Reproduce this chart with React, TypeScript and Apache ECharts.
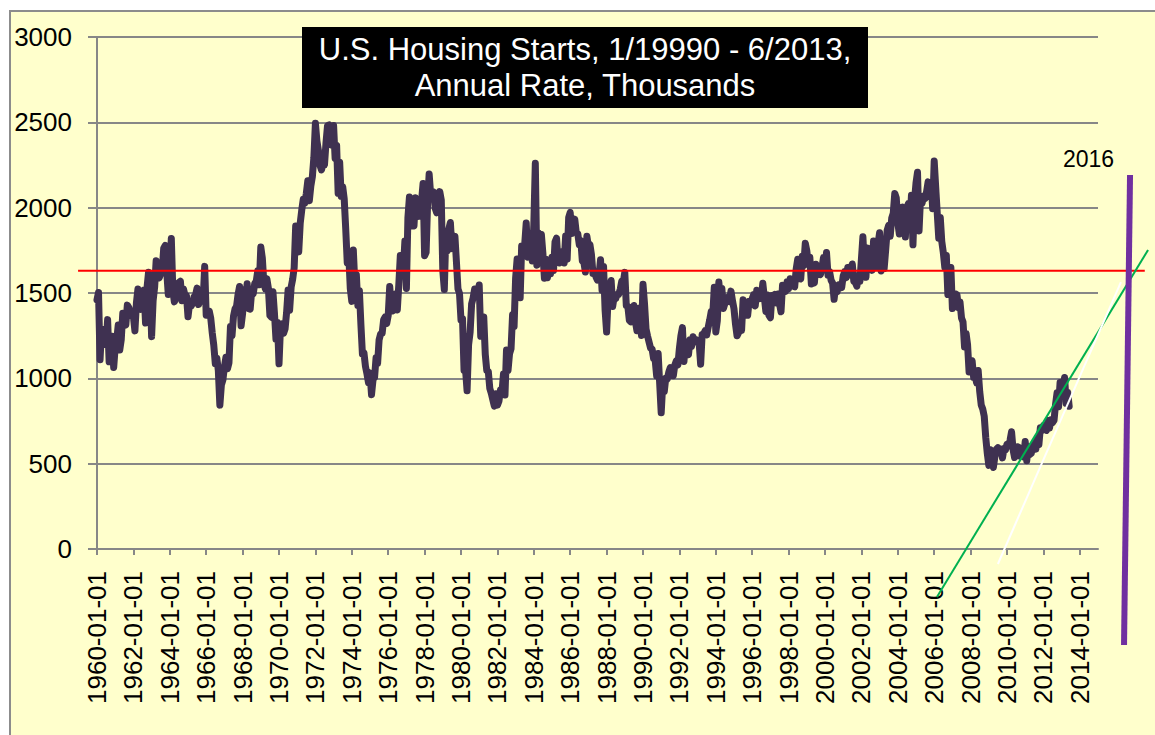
import React, { useEffect, useRef } from "react";
import * as echarts from "echarts";

// Monthly U.S. housing starts, annual rate, thousands (Jan 1960 – Jun 2013)
const starts1960s = [
  1460, 1503, 1109, 1289, 1271, 1247, 1197, 1344, 1097, 1246, 1246, 1063,
  1183, 1226, 1312, 1166, 1228, 1382, 1335, 1312, 1429, 1415, 1385, 1365,
  1361, 1278, 1443, 1524, 1483, 1404, 1450, 1517, 1324, 1533, 1622, 1564,
  1244, 1456, 1534, 1689, 1641, 1588, 1614, 1639, 1763, 1779, 1622, 1491,
  1603, 1820, 1517, 1448, 1467, 1550, 1562, 1569, 1455, 1524, 1486, 1484,
  1361, 1433, 1423, 1438, 1478, 1488, 1529, 1432, 1482, 1452, 1460, 1656,
  1370, 1378, 1394, 1352, 1265, 1194, 1086, 1119, 1046, 843, 961, 990,
  1067, 1123, 1056, 1091, 1304, 1248, 1364, 1407, 1421, 1491, 1538, 1308,
  1380, 1520, 1466, 1554, 1408, 1405, 1512, 1495, 1556, 1569, 1630, 1548,
  1769, 1705, 1561, 1524, 1583, 1528, 1368, 1358, 1507, 1381, 1229, 1327,
];
const starts1970s = [
  1085, 1305, 1319, 1264, 1290, 1385, 1517, 1399, 1534, 1580, 1647, 1893,
  1828, 1741, 1910, 1986, 2049, 2026, 2083, 2158, 2041, 2128, 2182, 2295,
  2494, 2390, 2334, 2249, 2221, 2254, 2252, 2382, 2481, 2485, 2421, 2366,
  2481, 2289, 2365, 2084, 2266, 2067, 2123, 2051, 1874, 1677, 1724, 1526,
  1451, 1752, 1555, 1607, 1426, 1513, 1316, 1142, 1150, 1070, 1026, 975,
  1032, 904, 993, 1005, 1121, 1087, 1226, 1260, 1264, 1344, 1360, 1321,
  1367, 1538, 1421, 1395, 1459, 1495, 1401, 1550, 1720, 1629, 1641, 1804,
  1527, 1943, 2063, 1892, 1971, 1893, 2058, 2020, 1949, 2042, 2042, 2142,
  1718, 1738, 2032, 2197, 2075, 2070, 2092, 1996, 1970, 1981, 2094, 2044,
  1630, 1520, 1847, 1748, 1876, 1913, 1760, 1778, 1832, 1681, 1524, 1498,
];
const starts1980s = [
  1341, 1350, 1047, 1051, 927, 1196, 1269, 1436, 1471, 1523, 1510, 1482,
  1547, 1246, 1306, 1360, 1140, 1045, 1041, 940, 911, 873, 837, 910,
  843, 866, 931, 917, 1025, 902, 1166, 1046, 1144, 1173, 1372, 1303,
  1586, 1699, 1606, 1472, 1776, 1733, 1785, 1910, 1710, 1715, 1785, 1688,
  1897, 2260, 1663, 1851, 1774, 1843, 1732, 1586, 1698, 1590, 1689, 1612,
  1711, 1632, 1800, 1821, 1680, 1676, 1684, 1743, 1676, 1834, 1698, 1942,
  1972, 1848, 1876, 1933, 1854, 1847, 1782, 1807, 1687, 1681, 1623, 1833,
  1774, 1784, 1726, 1614, 1628, 1594, 1575, 1605, 1695, 1515, 1656, 1400,
  1271, 1473, 1532, 1573, 1421, 1478, 1467, 1493, 1492, 1522, 1569, 1563,
  1621, 1425, 1422, 1339, 1331, 1397, 1427, 1332, 1279, 1410, 1351, 1251,
];
const starts1990s = [
  1551, 1437, 1289, 1248, 1212, 1177, 1171, 1115, 1110, 1014, 1145, 969,
  798, 965, 921, 1001, 996, 1036, 1063, 1049, 1015, 1079, 1103, 1079,
  1176, 1250, 1297, 1099, 1214, 1145, 1139, 1226, 1186, 1244, 1214, 1227,
  1210, 1210, 1083, 1258, 1260, 1280, 1254, 1300, 1343, 1392, 1376, 1533,
  1272, 1337, 1564, 1465, 1526, 1409, 1439, 1450, 1474, 1450, 1511, 1455,
  1407, 1316, 1249, 1267, 1314, 1281, 1461, 1416, 1369, 1369, 1452, 1431,
  1467, 1491, 1424, 1516, 1504, 1467, 1472, 1557, 1475, 1392, 1489, 1370,
  1355, 1486, 1457, 1492, 1442, 1494, 1437, 1390, 1546, 1520, 1510, 1566,
  1525, 1584, 1567, 1540, 1536, 1641, 1698, 1614, 1582, 1715, 1660, 1792,
  1748, 1670, 1710, 1553, 1611, 1559, 1669, 1648, 1635, 1608, 1648, 1708,
];
const starts2000s = [
  1636, 1737, 1604, 1626, 1575, 1559, 1463, 1541, 1507, 1549, 1551, 1532,
  1600, 1625, 1590, 1649, 1605, 1636, 1670, 1567, 1562, 1540, 1602, 1568,
  1698, 1829, 1642, 1592, 1764, 1717, 1655, 1633, 1804, 1648, 1753, 1788,
  1853, 1629, 1726, 1643, 1751, 1867, 1897, 1833, 1939, 1967, 2083, 2057,
  1911, 1846, 1998, 2003, 1981, 1828, 2002, 2024, 1905, 2072, 1782, 2042,
  2144, 2207, 1864, 2061, 2025, 2068, 2054, 2095, 2151, 2065, 2147, 1994,
  2273, 2119, 1969, 1821, 1942, 1802, 1737, 1650, 1720, 1491, 1570, 1649,
  1409, 1480, 1495, 1490, 1415, 1448, 1354, 1330, 1183, 1264, 1197, 1037,
  1084, 1103, 1005, 1013, 973, 1046, 923, 844, 820, 777, 652, 560,
  490, 582, 505, 478, 540, 585, 594, 586, 585, 534, 588, 581,
];
const starts2010s = [
  614, 604, 636, 687, 583, 536, 546, 599, 594, 543, 545, 539,
  630, 517, 600, 554, 561, 608, 623, 585, 650, 610, 711, 694,
  723, 704, 695, 753, 708, 757, 740, 754, 847, 915, 833, 976,
  888, 962, 1005, 853, 919, 836,
];
const firstYear = 1960;

// Axis ticks
const xTickYears = [
  1960, 1962, 1964, 1966, 1968, 1970, 1972, 1974, 1976, 1978, 1980, 1982, 1984,
  1986, 1988, 1990, 1992, 1994, 1996, 1998, 2000, 2002, 2004, 2006, 2008, 2010,
  2012, 2014,
];

// Hand-drawn annotation lines, in data units [yearStart, valueStart, yearEnd, valueEnd]
const redLevel = [1958.96, 1630, 2017.57, 1630];
const greenTrend = [2006.15, -281, 2017.75, 1752];
const whiteTrend = [2009.5, -88, 2016.26, 1564];
const marker2016 = [2016.76, 2191, 2016.43, -562];

const titleLines = ["U.S. Housing Starts, 1/19990 - 6/2013,", "Annual Rate, Thousands"];
const markerLabel = "2016";

const FONT = '"Liberation Sans", Arial, sans-serif';
const GRID_GRAY = "#878787";

export default function App() {
  const ref = useRef<HTMLDivElement>(null);

  useEffect(() => {
    if (!ref.current) return;
    const chart = echarts.init(ref.current, undefined, { renderer: "svg" });

    const all = [
      ...starts1960s,
      ...starts1970s,
      ...starts1980s,
      ...starts1990s,
      ...starts2000s,
      ...starts2010s,
    ];
    const seriesData = all.map((v, i) => [firstYear + i / 12, v]);

    const annot = (seg: number[], color: string, width: number, z: number) => ({
      type: "custom",
      coordinateSystem: "cartesian2d",
      clip: false,
      silent: true,
      z,
      data: [seg],
      encode: { x: [0, 2], y: [1, 3] },
      renderItem: (_params: any, api: any) => {
        const p1 = api.coord([api.value(0), api.value(1)]);
        const p2 = api.coord([api.value(2), api.value(3)]);
        return {
          type: "line",
          shape: { x1: p1[0], y1: p1[1], x2: p2[0], y2: p2[1] },
          style: { stroke: color, lineWidth: width, fill: "none" },
        };
      },
    });

    chart.setOption({
      animation: false,
      backgroundColor: "#ffffff",
      textStyle: { fontFamily: FONT },
      grid: {
        left: 97,
        top: 37,
        right: 57,
        bottom: 186,
        containLabel: false,
        outerBoundsMode: "none",
      },
      xAxis: {
        type: "value",
        min: 1960,
        max: 2015,
        interval: 2,
        axisLine: { show: true, onZero: false, lineStyle: { color: GRID_GRAY, width: 2 } },
        axisTick: {
          show: true,
          length: 6,
          customValues: xTickYears,
          lineStyle: { color: GRID_GRAY, width: 2 },
        },
        axisLabel: {
          rotate: 90,
          margin: 22,
          fontSize: 26,
          color: "#000",
          fontFamily: FONT,
          customValues: xTickYears,
          formatter: (v: number) => `${v}-01-01`,
        },
        splitLine: { show: false },
      },
      yAxis: {
        type: "value",
        min: 0,
        max: 3000,
        interval: 500,
        axisLine: { show: true, lineStyle: { color: GRID_GRAY, width: 2 } },
        axisTick: { show: true, length: 9, lineStyle: { color: GRID_GRAY, width: 2 } },
        axisLabel: {
          margin: 25,
          fontSize: 26,
          color: "#000",
          fontFamily: FONT,
          formatter: (v: number) => String(v),
        },
        splitLine: { show: true, lineStyle: { color: GRID_GRAY, width: 2 } },
      },
      series: [
        {
          type: "line",
          name: "Housing Starts",
          data: seriesData,
          symbol: "none",
          showSymbol: false,
          z: 3,
          lineStyle: { color: "#3F3151", width: 7, join: "round", cap: "round" },
        },
        annot(redLevel, "#FF0000", 2, 4),
        annot(greenTrend, "#00B050", 2, 5),
        annot(whiteTrend, "#FFFFFF", 2, 5),
        annot(marker2016, "#7030A0", 6, 6),
      ],
      graphic: [
        {
          type: "rect",
          z: -100,
          silent: true,
          shape: { x: 10, y: 11, width: 1200, height: 800 },
          style: { fill: "#FFFFCC", stroke: "#8C8C8C", lineWidth: 2 },
        },
        {
          type: "rect",
          z: 50,
          silent: true,
          shape: { x: 302, y: 27, width: 566, height: 81 },
          style: { fill: "#000000" },
        },
        {
          type: "text",
          z: 51,
          silent: true,
          x: 585,
          y: 67.5,
          style: {
            text: titleLines.join("\n"),
            fill: "#FFFFFF",
            font: `31px ${FONT}`,
            lineHeight: 36,
            align: "center",
            verticalAlign: "middle",
          },
        },
        {
          type: "text",
          z: 51,
          silent: true,
          x: 1063,
          y: 147,
          style: {
            text: markerLabel,
            fill: "#000000",
            font: `23px ${FONT}`,
            align: "left",
            verticalAlign: "top",
          },
        },
      ],
    });

    return () => chart.dispose();
  }, []);

  return (
    <div
      ref={ref}
      style={{ position: "absolute", left: 0, top: 0, width: 1155, height: 735 }}
    />
  );
}
